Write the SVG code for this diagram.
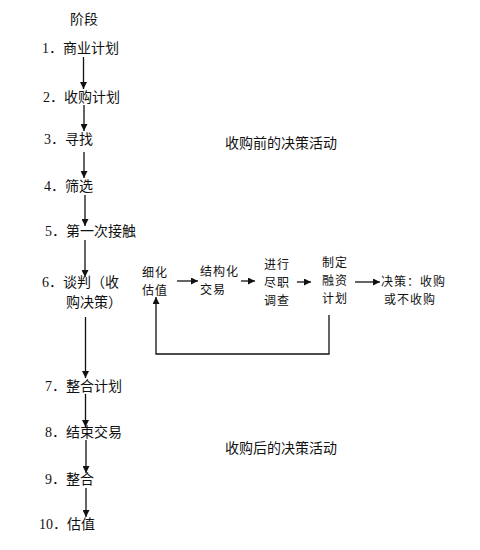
<svg xmlns="http://www.w3.org/2000/svg" width="480" height="550" viewBox="0 0 480 550">
<defs>
<marker id="ah" viewBox="0 0 10 10" refX="10" refY="5" markerWidth="7" markerHeight="7" markerUnits="userSpaceOnUse" orient="auto">
<path d="M0,0 L10,5 L0,10 Z" fill="#111"/>
</marker>
<style>
text{font-family:"Liberation Serif","Noto Sans CJK SC",serif;fill:#111;}
.s{font-size:14px;}
.r{font-size:12px;font-family:"Noto Sans CJK SC",sans-serif;letter-spacing:1px;}
.c line,.c path{stroke:#111;stroke-width:1.3;fill:none;marker-end:url(#ah);}
</style>
</defs>
<rect width="480" height="550" fill="#fff"/>
<g id="header"><text class="s" x="70" y="24" font-family="Noto Sans CJK SC">阶段</text></g>
<g id="s1"><text class="s" x="42" y="53">1．商业计划</text></g>
<g id="s2"><text class="s" x="43" y="102">2．收购计划</text></g>
<g id="s3"><text class="s" x="44" y="144">3．寻找</text></g>
<g id="s4"><text class="s" x="44" y="191">4．筛选</text></g>
<g id="s5"><text class="s" x="45" y="236">5．第一次接触</text></g>
<g id="s6"><text class="s" x="42" y="287">6．谈判（收<tspan x="66" y="307">购决策）</tspan></text></g>
<g id="s7"><text class="s" x="45" y="391">7．整合计划</text></g>
<g id="s8"><text class="s" x="45" y="437">8．结束交易</text></g>
<g id="s9"><text class="s" x="45" y="484">9．整合</text></g>
<g id="s10"><text class="s" x="39" y="529">10．估值</text></g>
<g id="pre"><text class="s" x="225" y="148" font-family="Noto Sans CJK SC">收购前的决策活动</text></g>
<g id="post"><text class="s" x="225" y="453" font-family="Noto Sans CJK SC">收购后的决策活动</text></g>
<g id="n1"><text class="r" x="142" y="277">细化<tspan x="142" y="295">估值</tspan></text></g>
<g id="n2"><text class="r" x="200" y="276">结构化<tspan x="200" y="294">交易</tspan></text></g>
<g id="n3"><text class="r" x="264" y="269">进行<tspan x="264" y="287">尽职</tspan><tspan x="264" y="305">调查</tspan></text></g>
<g id="n4"><text class="r" x="322" y="267">制定<tspan x="322" y="285">融资</tspan><tspan x="322" y="303">计划</tspan></text></g>
<g id="n5"><text class="r" x="381" y="286">决策：收购<tspan x="384" y="304">或不收购</tspan></text></g>
<g id="connectors" class="c">
<line x1="83.5" y1="57" x2="83.5" y2="89"/>
<line x1="84" y1="105" x2="84" y2="131"/>
<line x1="84" y1="152" x2="84" y2="178"/>
<line x1="85" y1="195" x2="85" y2="226"/>
<line x1="85" y1="240" x2="85" y2="277"/>
<line x1="85.5" y1="317" x2="85.5" y2="378"/>
<line x1="85.5" y1="394" x2="85.5" y2="427"/>
<line x1="86" y1="440" x2="86" y2="473"/>
<line x1="86" y1="488" x2="86" y2="517"/>
<line x1="177" y1="281" x2="198" y2="281"/>
<line x1="241" y1="281" x2="255" y2="281"/>
<line x1="297" y1="282" x2="311" y2="282"/>
<line x1="355" y1="282" x2="380" y2="282"/>
<path d="M329,315 V354 H156 V297"/>
</g>
</svg>
